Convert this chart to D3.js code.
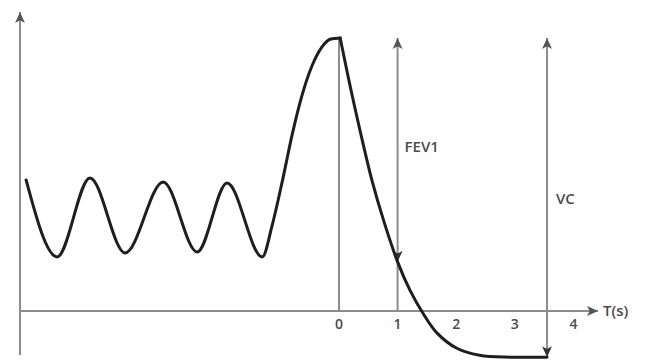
<!DOCTYPE html>
<html>
<head>
<meta charset="utf-8">
<script src="https://cdn.jsdelivr.net/npm/d3@7"></script>
<style>
  body { margin: 0; background: #fff; }
  svg { display: block; }
  .lbl { font-family: "Open Sans", "Liberation Sans", sans-serif; fill: #4a4a4a; font-weight: 600; }
</style>
</head>
<body>
<div id="chart"></div>
<script>
// spirometry trace: time (s) and volume (arbitrary units)
// tidal breathing, then full inspiration up to t = 0, then forced expiration
const traceTime = [-5.34, -4.81, -4.25, -3.65, -3.00, -2.42, -1.91, -1.31,
                   -1.14, -0.97, -0.80, -0.63, -0.46, -0.29, -0.14, 0.02,
                   0.19, 0.36, 0.56, 0.77, 1.00, 1.21, 1.43, 1.67, 2.01, 2.40, 2.92, 3.55];
const traceVolume = [2.64, 1.09, 2.68, 1.17, 2.60, 1.19, 2.58, 1.09,
                     1.73, 2.60, 3.55, 4.35, 4.94, 5.32, 5.48, 5.50,
                     4.53, 3.63, 2.64, 1.79, 0.99, 0.42, -0.04, -0.44, -0.75, -0.89, -0.93, -0.93];
const tickLabels = [0, 1, 2, 3, 4];
const maxVolume = 5.5;
const fev1 = {t: 1, v: 0.99, label: "FEV1"};
const vc = {t: 3.55, v: -0.93, label: "VC"};
const axisLabel = "T(s)";

const width = 646, height = 363;

const svg = d3.select("#chart").append("svg")
    .attr("width", width)
    .attr("height", height);

// scales anchored to the 0..4 s ticks
const x = d3.scaleLinear().domain([0, 4]).range([339, 573.4]);
const y = d3.scaleLinear().domain([0, maxVolume]).range([311, 38]);

const axisColor = "#8c8c8c";

// arrow markers
const defs = svg.append("defs");
function addMarker(id, color, size) {
    defs.append("marker")
        .attr("id", id)
        .attr("viewBox", "0 -5 10 10")
        .attr("refX", 10)
        .attr("refY", 0)
        .attr("markerUnits", "userSpaceOnUse")
        .attr("markerWidth", size)
        .attr("markerHeight", size)
        .attr("orient", "auto-start-reverse")
        .append("path")
        .attr("d", "M0,-4.5L10,0L0,4.5L2.5,0Z")
        .attr("fill", color);
}
addMarker("arrowGray", "#555", 11);
addMarker("arrowDark", "#333", 11);

// y axis (no ticks)
svg.append("line")
    .attr("x1", 20).attr("x2", 20)
    .attr("y1", 355).attr("y2", 12)
    .attr("stroke", axisColor)
    .attr("stroke-width", 2)
    .attr("marker-end", "url(#arrowGray)");

// x axis
svg.append("line")
    .attr("x1", 19).attr("x2", 598)
    .attr("y1", y(0)).attr("y2", y(0))
    .attr("stroke", axisColor)
    .attr("stroke-width", 2)
    .attr("marker-end", "url(#arrowGray)");

svg.append("text")
    .attr("class", "lbl")
    .attr("x", 603)
    .attr("y", y(0))
    .attr("dy", "0.35em")
    .style("font-size", "15px")
    .text(axisLabel);

// tick labels
svg.selectAll(".tick-label")
    .data(tickLabels)
    .enter()
    .append("text")
    .attr("class", "lbl tick-label")
    .attr("x", d => x(d))
    .attr("y", 324)
    .attr("dy", "0.35em")
    .attr("text-anchor", "middle")
    .style("font-size", "14px")
    .text(d => d);

// t = 0 reference line
svg.append("line")
    .attr("x1", x(0)).attr("x2", x(0))
    .attr("y1", y(maxVolume)).attr("y2", y(0))
    .attr("stroke", axisColor)
    .attr("stroke-width", 2);

// FEV1 double arrow + drop line to the axis
svg.append("line")
    .attr("x1", x(fev1.t)).attr("x2", x(fev1.t))
    .attr("y1", y(fev1.v)).attr("y2", y(maxVolume))
    .attr("stroke", axisColor)
    .attr("stroke-width", 2)
    .attr("marker-start", "url(#arrowDark)")
    .attr("marker-end", "url(#arrowGray)");
svg.append("line")
    .attr("x1", x(fev1.t)).attr("x2", x(fev1.t))
    .attr("y1", y(fev1.v)).attr("y2", y(0))
    .attr("stroke", axisColor)
    .attr("stroke-width", 2);
svg.append("text")
    .attr("class", "lbl")
    .attr("x", x(fev1.t) + 7)
    .attr("y", 147)
    .attr("dy", "0.35em")
    .style("font-size", "15px")
    .text(fev1.label);

// VC double arrow
svg.append("line")
    .attr("x1", x(vc.t)).attr("x2", x(vc.t))
    .attr("y1", y(vc.v)).attr("y2", y(maxVolume))
    .attr("stroke", axisColor)
    .attr("stroke-width", 2)
    .attr("marker-start", "url(#arrowDark)")
    .attr("marker-end", "url(#arrowGray)");
svg.append("text")
    .attr("class", "lbl")
    .attr("x", x(vc.t) + 9)
    .attr("y", 199)
    .attr("dy", "0.35em")
    .style("font-size", "15px")
    .text(vc.label);

// volume trace, split at the end of the inspiration plateau so the corner stays sharp
const trace = traceTime.map((t, i) => ({t: t, v: traceVolume[i]}));
const peakIndex = traceTime.findIndex(t => t >= 0);

// inspiration: monotone keeps the wave crests round
const inhaleLine = d3.line()
    .x(d => x(d.t))
    .y(d => y(d.v))
    .curve(d3.curveMonotoneX);
// forced expiration
const exhaleLine = d3.line()
    .x(d => x(d.t))
    .y(d => y(d.v))
    .curve(d3.curveCatmullRom.alpha(0.5));

const traceStyle = sel => sel
    .attr("fill", "none")
    .attr("stroke", "#1e1e1e")
    .attr("stroke-width", 3)
    .attr("stroke-linejoin", "round")
    .attr("stroke-linecap", "round");

svg.append("path")
    .datum(trace.slice(0, peakIndex + 1))
    .attr("class", "trace")
    .attr("d", inhaleLine)
    .call(traceStyle);

svg.append("path")
    .datum(trace.slice(peakIndex))
    .attr("class", "trace")
    .attr("d", exhaleLine)
    .call(traceStyle);
</script>
</body>
</html>
